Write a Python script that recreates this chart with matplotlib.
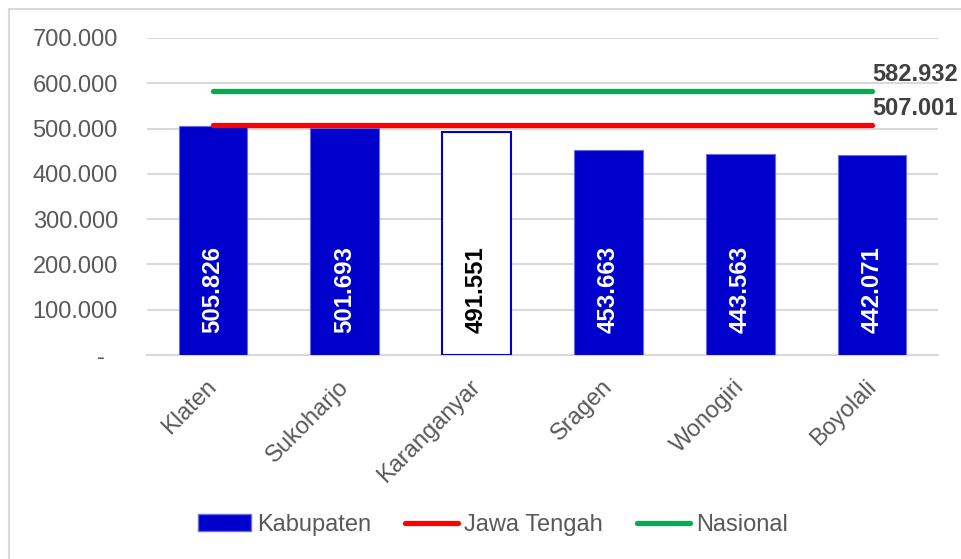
import matplotlib
matplotlib.use("Agg")
import matplotlib.pyplot as plt
from matplotlib.patches import Rectangle, Patch
from matplotlib.lines import Line2D
from matplotlib.transforms import ScaledTranslation

categories = ["Klaten", "Sukoharjo", "Karanganyar", "Sragen", "Wonogiri", "Boyolali"]
values = [505826, 501693, 491551, 453663, 443563, 442071]
value_labels = ["505.826", "501.693", "491.551", "453.663", "443.563", "442.071"]
jateng = 507001
nasional = 582932
jateng_label = "507.001"
nasional_label = "582.932"
yticks = [0, 100000, 200000, 300000, 400000, 500000, 600000, 700000]
ytick_labels = ["-  ", "100.000", "200.000", "300.000", "400.000", "500.000", "600.000", "700.000"]

plt.rcParams['font.family'] = ['Liberation Sans', 'DejaVu Sans']

W, H = 961, 559
fig = plt.figure(figsize=(W / 100, H / 100), dpi=100)
ax = fig.add_axes([147 / W, 1 - 355 / H, (938 - 147) / W, (355 - 38) / H])

blue = "#0000CC"
red = "#FF0000"
green = "#00B050"
txt = "#595959"
fs = 17

x = list(range(len(categories)))
highlight = 2
for i, v in enumerate(values):
    if i == highlight:
        ax.bar(i, v, width=0.52, color="white", edgecolor=blue, linewidth=1.5, zorder=3)
    else:
        ax.bar(i, v, width=0.52, color=blue, edgecolor="#6b6bdf", linewidth=0.8, zorder=3)
    ax.annotate(value_labels[i], xy=(i, 0), xytext=(0, 16), textcoords="offset points",
                rotation=90, ha="center", va="bottom", fontsize=fs + 0.3, fontweight="bold",
                color="black" if i == highlight else "white", zorder=5)

ax.plot([x[0], x[-1]], [jateng, jateng], color=red, linewidth=3.8,
        solid_capstyle="round", zorder=4)
ax.plot([x[0], x[-1]], [nasional, nasional], color=green, linewidth=3.8,
        solid_capstyle="round", zorder=4)
ax.annotate(nasional_label, xy=(x[-1], nasional), xytext=(0, 12), textcoords="offset points",
            ha="left", va="center", fontsize=fs, fontweight="bold", color="#404040",
            annotation_clip=False)
ax.annotate(jateng_label, xy=(x[-1], jateng), xytext=(0, 12), textcoords="offset points",
            ha="left", va="center", fontsize=fs, fontweight="bold", color="#404040",
            annotation_clip=False)

ax.set_xlim(-0.5, len(categories) - 0.5)
ax.set_ylim(0, 700000)
ax.set_yticks(yticks)
ax.set_yticklabels(ytick_labels)
ax.set_xticks(x)
ax.set_xticklabels(categories, rotation=45, ha="right", rotation_mode="anchor")
ax.tick_params(axis="y", length=0, pad=21, labelsize=fs, labelcolor=txt)
ax.tick_params(axis="x", length=0, pad=15, labelsize=fs, labelcolor=txt)
shift = ScaledTranslation(-7 / 100, 0, fig.dpi_scale_trans)
for lab in ax.get_xticklabels():
    lab.set_transform(lab.get_transform() + shift)
ax.grid(axis="y", color="#d9d9d9", linewidth=1.5, zorder=0)
ax.set_axisbelow(True)
for s in ["top", "right", "left"]:
    ax.spines[s].set_visible(False)
ax.spines["bottom"].set_color("#d9d9d9")
ax.spines["bottom"].set_linewidth(1.5)

handles = [Patch(facecolor=blue, edgecolor="#6b6bdf"),
           Line2D([0], [0], color=red, linewidth=3.8, solid_capstyle="round"),
           Line2D([0], [0], color=green, linewidth=3.8, solid_capstyle="round")]
fig.legend(handles, ["Kabupaten", "Jawa Tengah", "Nasional"], loc="center",
           bbox_to_anchor=(493 / W, 1 - 525 / H), ncol=3, frameon=False,
           fontsize=fs, labelcolor=txt, handlelength=2.25, handletextpad=0.25,
           columnspacing=1.45, handleheight=0.75)

fig.patches.append(Rectangle((9 / W, -0.1), 1.2, 1 - 9 / H + 0.1, transform=fig.transFigure,
                             fill=False, edgecolor="#d9d9d9", linewidth=1.5))

fig.savefig("out.png", dpi=100, facecolor="white")
